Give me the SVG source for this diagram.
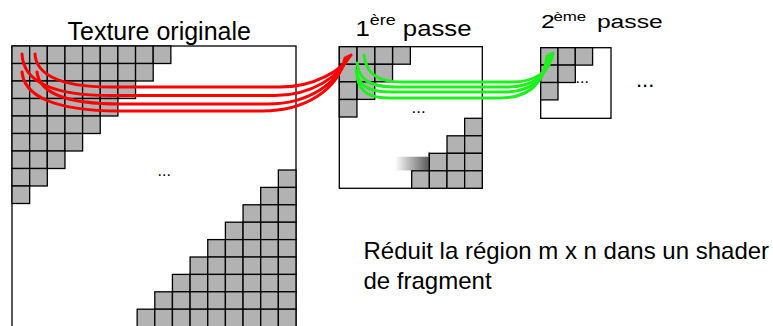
<svg xmlns="http://www.w3.org/2000/svg" width="773" height="326" viewBox="0 0 773 326">
  <style>
    .box { fill: #fff; stroke: #000; stroke-width: 1.3; }
    .cell { fill: #b2b2b2; stroke: #000; stroke-width: 1.3; }
    .txt { font-family: "Liberation Sans", Arial, sans-serif; fill: #000; }
    .dots { font-family: "Liberation Sans", Arial, sans-serif; fill: #000; }
    .red { fill: none; stroke: #ff0000; stroke-width: 3; stroke-linecap: round; }
    .green { fill: none; stroke: #1ef01e; stroke-width: 3; stroke-linecap: round; }
  </style>
  <defs>
    <rect id="c" class="cell" width="17.65" height="17.5"/>
    <rect id="cs" class="cell" width="17.3" height="17.4"/>
    <linearGradient id="shade" x1="0" y1="0" x2="1" y2="0">
      <stop offset="0" stop-color="#ffffff"/>
      <stop offset="1" stop-color="#5a5a5a"/>
    </linearGradient>
  </defs>

  <rect width="773" height="326" fill="#fff"/>

  <!-- Original texture: staircase of texels at top-left and bottom-right -->
  <g id="texture">
    <rect class="box" x="12" y="46" width="284" height="300"/>
    <use href="#c" x="12" y="46"/><use href="#c" x="29.65" y="46"/><use href="#c" x="47.3" y="46"/><use href="#c" x="64.95" y="46"/><use href="#c" x="82.6" y="46"/><use href="#c" x="100.25" y="46"/><use href="#c" x="117.9" y="46"/><use href="#c" x="135.55" y="46"/><use href="#c" x="153.2" y="46"/>
    <use href="#c" x="12" y="63.5"/><use href="#c" x="29.65" y="63.5"/><use href="#c" x="47.3" y="63.5"/><use href="#c" x="64.95" y="63.5"/><use href="#c" x="82.6" y="63.5"/><use href="#c" x="100.25" y="63.5"/><use href="#c" x="117.9" y="63.5"/><use href="#c" x="135.55" y="63.5"/>
    <use href="#c" x="12" y="81"/><use href="#c" x="29.65" y="81"/><use href="#c" x="47.3" y="81"/><use href="#c" x="64.95" y="81"/><use href="#c" x="82.6" y="81"/><use href="#c" x="100.25" y="81"/><use href="#c" x="117.9" y="81"/>
    <use href="#c" x="12" y="98.5"/><use href="#c" x="29.65" y="98.5"/><use href="#c" x="47.3" y="98.5"/><use href="#c" x="64.95" y="98.5"/><use href="#c" x="82.6" y="98.5"/><use href="#c" x="100.25" y="98.5"/>
    <use href="#c" x="12" y="116"/><use href="#c" x="29.65" y="116"/><use href="#c" x="47.3" y="116"/><use href="#c" x="64.95" y="116"/><use href="#c" x="82.6" y="116"/>
    <use href="#c" x="12" y="133.5"/><use href="#c" x="29.65" y="133.5"/><use href="#c" x="47.3" y="133.5"/><use href="#c" x="64.95" y="133.5"/>
    <use href="#c" x="12" y="151"/><use href="#c" x="29.65" y="151"/><use href="#c" x="47.3" y="151"/>
    <use href="#c" x="12" y="168.5"/><use href="#c" x="29.65" y="168.5"/>
    <use href="#c" x="12" y="186"/>

    <use href="#c" x="278.35" y="170"/>
    <use href="#c" x="260.7" y="187.4"/><use href="#c" x="278.35" y="187.4"/>
    <use href="#c" x="243.05" y="204.8"/><use href="#c" x="260.7" y="204.8"/><use href="#c" x="278.35" y="204.8"/>
    <use href="#c" x="225.4" y="222.2"/><use href="#c" x="243.05" y="222.2"/><use href="#c" x="260.7" y="222.2"/><use href="#c" x="278.35" y="222.2"/>
    <use href="#c" x="207.75" y="239.6"/><use href="#c" x="225.4" y="239.6"/><use href="#c" x="243.05" y="239.6"/><use href="#c" x="260.7" y="239.6"/><use href="#c" x="278.35" y="239.6"/>
    <use href="#c" x="190.1" y="257"/><use href="#c" x="207.75" y="257"/><use href="#c" x="225.4" y="257"/><use href="#c" x="243.05" y="257"/><use href="#c" x="260.7" y="257"/><use href="#c" x="278.35" y="257"/>
    <use href="#c" x="172.45" y="274.4"/><use href="#c" x="190.1" y="274.4"/><use href="#c" x="207.75" y="274.4"/><use href="#c" x="225.4" y="274.4"/><use href="#c" x="243.05" y="274.4"/><use href="#c" x="260.7" y="274.4"/><use href="#c" x="278.35" y="274.4"/>
    <use href="#c" x="154.8" y="291.8"/><use href="#c" x="172.45" y="291.8"/><use href="#c" x="190.1" y="291.8"/><use href="#c" x="207.75" y="291.8"/><use href="#c" x="225.4" y="291.8"/><use href="#c" x="243.05" y="291.8"/><use href="#c" x="260.7" y="291.8"/><use href="#c" x="278.35" y="291.8"/>
    <use href="#c" x="137.15" y="309.2"/><use href="#c" x="154.8" y="309.2"/><use href="#c" x="172.45" y="309.2"/><use href="#c" x="190.1" y="309.2"/><use href="#c" x="207.75" y="309.2"/><use href="#c" x="225.4" y="309.2"/><use href="#c" x="243.05" y="309.2"/><use href="#c" x="260.7" y="309.2"/><use href="#c" x="278.35" y="309.2"/>
    <text class="dots" x="157.5" y="175.5" font-size="16">...</text>
  </g>

  <!-- First reduction pass -->
  <g id="pass1">
    <rect class="box" x="339.3" y="46.7" width="143" height="141.6"/>
    <use href="#c" x="339.3" y="46.7"/><use href="#c" x="357.1" y="46.7"/><use href="#c" x="374.9" y="46.7"/><use href="#c" x="392.7" y="46.7"/>
    <use href="#c" x="339.3" y="64.3"/><use href="#c" x="357.1" y="64.3"/><use href="#c" x="374.9" y="64.3"/>
    <use href="#c" x="339.3" y="81.9"/><use href="#c" x="357.1" y="81.9"/>
    <use href="#c" x="339.3" y="99.5"/>

    <rect x="395" y="156.7" width="34" height="13.8" fill="url(#shade)"/>
    <polygon points="428,157 428.6,151.5 431,154" fill="#666"/>
    <use href="#c" x="464.65" y="118.3"/>
    <use href="#c" x="447" y="135.8"/><use href="#c" x="464.65" y="135.8"/>
    <use href="#c" x="429.35" y="153.3"/><use href="#c" x="447" y="153.3"/><use href="#c" x="464.65" y="153.3"/>
    <use href="#c" x="411.7" y="170.8"/><use href="#c" x="429.35" y="170.8"/><use href="#c" x="447" y="170.8"/><use href="#c" x="464.65" y="170.8"/>
    <text class="dots" x="411.5" y="113" font-size="17">...</text>
  </g>

  <!-- Second reduction pass -->
  <g id="pass2">
    <rect class="box" x="540.7" y="47.7" width="70.3" height="70.6"/>
    <use href="#cs" x="540.7" y="47.7"/><use href="#cs" x="558" y="47.7"/><use href="#cs" x="575.3" y="47.7"/>
    <use href="#cs" x="540.7" y="65.1"/><use href="#cs" x="558" y="65.1"/>
    <use href="#cs" x="540.7" y="82.5"/>
    <text class="dots" x="575.5" y="82.5" font-size="16">...</text>
  </g>

  <g id="more">
    <text class="dots" x="636" y="87" font-size="22">...</text>
  </g>

  <!-- Fetches: 2x2 neighbourhoods gathered into one texel of the next pass -->
  <g id="connectors">
    <path class="green" d="M364,55 C366,74 378,82 402,82 L512,82 C535,82 550,72 553,53"/>
    <path class="green" d="M357,63 C359,80 370,87 395,87 L508,87 C532,87 548,76 551,54"/>
    <path class="green" d="M356,70 C358,86 368,92 392,92 L504,92 C530,92 546,80 549,55"/>
    <path class="green" d="M357,77 C360,93 370,98 390,98 L500,98 C528,98 544,84 547,56"/>

    <path class="red" d="M35,54 C36,72 55,87 110,87 L280,87 C315,87 342,70 351,55"/>
    <path class="red" d="M22,54 C23,78 45,95.5 110,95.5 L275,95.5 C312,95.5 340,76 349,56"/>
    <path class="red" d="M37,72 C39,90 60,104 120,104 L268,104 C308,104 339,83 347,57"/>
    <path class="red" d="M22,72 C24,94 50,111 120,111 L262,111 C305,111 338,90 345,58"/>
  </g>

  <g id="labels">
    <text class="txt" x="67.5" y="40" font-size="25">Texture originale</text>
    <text class="txt" transform="translate(355.5,35.7) scale(1.17,1)" font-size="22">1<tspan font-size="15.3" dy="-10.7">ère</tspan><tspan dy="10.7"> passe</tspan></text>
    <text class="txt" transform="translate(541,28) scale(1.3,1)" font-size="19">2<tspan font-size="13" dx="-1" dy="-7">ème</tspan><tspan x="43" dy="7">passe</tspan></text>
    <text class="txt" x="363.5" y="258.5" font-size="24">Réduit la région m x n dans un shader</text>
    <text class="txt" x="363.5" y="289" font-size="24">de fragment</text>
  </g>
</svg>
